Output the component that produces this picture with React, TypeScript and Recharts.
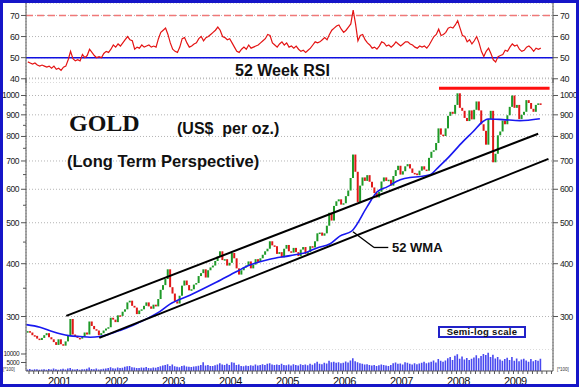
import React from "react";
import { Bar, CartesianGrid, ComposedChart, Line, ReferenceLine, XAxis, YAxis } from "recharts";

const W = 579;
const H = 387;
const SANS = "'Liberation Sans', Arial, sans-serif";
const SERIF = "'Liberation Serif', 'Times New Roman', serif";

// time axis (decimal years), plot spans 26..553 px
const X0 = 2000.614;
const X1 = 2009.86;
// half-month periods, first one = second half of Aug 2000
const FIRST_PERIOD = 2000 + 7.75 / 12;

// weekly gold price (US$)
const priceClose = [
  // 2000 Aug-b .. Dec-b
  277, 275, 271, 270, 266, 264, 267, 271, 274,
  // 2001
  268, 265, 261, 257, 265, 258, 256, 262, 270, 296, 272, 270,
  267, 266, 269, 275, 272, 292, 285, 280, 278, 271, 274, 278,
  // 2002
  281, 283, 298, 295, 291, 302, 301, 308, 312, 324, 327, 318,
  315, 304, 310, 312, 318, 324, 317, 313, 320, 317, 330, 347,
  // 2003
  356, 368, 388, 352, 340, 326, 322, 336, 355, 365, 356, 346,
  348, 357, 360, 374, 380, 388, 371, 386, 392, 396, 406, 416,
  // 2004
  428, 408, 410, 396, 402, 424, 412, 390, 377, 386, 392, 396,
  405, 390, 398, 410, 404, 412, 420, 428, 434, 452, 442, 440,
  // 2005
  422, 426, 414, 434, 443, 428, 425, 436, 426, 417, 432, 438,
  422, 426, 440, 437, 452, 472, 474, 466, 472, 492, 528, 506,
  // 2006
  548, 562, 568, 552, 556, 578, 596, 638, 725, 660, 560, 612,
  640, 628, 648, 625, 606, 588, 574, 592, 626, 640, 628, 632,
  // 2007
  612, 645, 666, 682, 650, 662, 680, 688, 672, 656, 654, 648,
  664, 680, 668, 664, 712, 736, 742, 772, 836, 808, 802, 836,
  // 2008
  895, 915, 905, 950, 1012, 935, 920, 885, 870, 922, 878, 925,
  968, 922, 855, 825, 765, 880, 920, 695, 728, 805, 822, 872,
  // 2009 Jan-a .. Aug-b
  855, 898, 940, 1000, 935, 950, 880, 900, 915, 975, 960, 930,
  915, 950, 958, 950,
];

// 52 week RSI
const rsi52 = [
  48, 47.5, 47, 47.5, 46.5, 46, 46.5, 46, 45.5,
  46, 45, 46, 44.5, 45, 44, 45.5, 46, 49, 53, 49.5, 48.5,
  49, 48.5, 51.5, 50, 51, 54, 52.5, 51, 50, 50.5, 50, 52,
  53, 52.5, 54, 56, 55, 56.5, 55.5, 57, 58.5, 60, 58.5, 58,
  54, 55, 54.5, 56, 55, 55.5, 56, 55, 55.5, 55, 59, 62,
  63, 64, 61, 57, 54, 53, 52.5, 55, 59, 59.5, 57, 55,
  55.5, 56.5, 57, 59, 60, 58, 59.5, 60, 61, 62, 63, 64.5,
  63, 60, 59.5, 58.5, 59, 57, 55, 53, 52.5, 54, 55, 54,
  56, 54.5, 55, 55.5, 56, 57, 58, 59, 61, 60.5, 57, 56,
  55, 56.5, 57.5, 56, 57, 55, 55.5, 54.5, 55.5, 54, 53, 53.5,
  52.5, 53.5, 54.5, 56, 57.5, 57, 57.5, 58.5, 59.5, 58.5, 61, 63,
  64, 65, 65.5, 63.5, 62, 63, 64.5, 66, 72.5, 66, 58, 60.5,
  61, 58.5, 57, 56, 54.5, 55, 54, 55.5, 57.5, 57, 55.5, 56,
  55, 56, 57.5, 56.5, 55.5, 56.5, 57.5, 57.5, 56.5, 56, 55, 54.5,
  55.5, 55, 55.5, 54.5, 56, 58, 60, 61, 63.5, 60.5, 61, 62,
  64, 64.5, 64, 65.5, 67.5, 64, 60.5, 60, 57.5, 58.5, 56.5, 58,
  60, 57, 53, 50.5, 53, 54.5, 52, 49, 48, 50.5, 51, 51.5,
  53.5, 53, 55, 56.5, 55.5, 56, 54, 53, 53.5, 55, 55.5, 54.5,
  53, 54.5, 54, 54.5,
];

// volume (x100)
const volume = [
  900, 1200, 800, 1000, 1100, 700, 900, 1000, 800,
  1200, 900, 1500, 1000, 800, 1100, 1300, 900, 1400, 1800, 1000, 900,
  1200, 800, 1000, 1100, 1300, 2000, 1200, 1000, 1400, 900, 1100, 1300,
  1500, 1800, 2200, 1600, 1500, 2000, 1700, 1900, 2500, 2800, 3000, 2200,
  2000, 1800, 1700, 2100, 1900, 2300, 1800, 1600, 2000, 1900, 2400, 2800,
  3200, 3500, 4000, 3000, 3800, 2800, 2500, 2200, 3000, 3300, 2700, 2500,
  2300, 2600, 2800, 3100, 3500, 5200, 3200, 3600, 3000, 2900, 3400, 3800,
  4500, 3800, 3500, 4200, 3600, 5200, 4800, 3500, 3800, 3000, 2800, 3200,
  2900, 3400, 3100, 3800, 3300, 3500, 4000, 3600, 4200, 4600, 3800, 3500,
  3800, 3500, 4200, 3600, 3400, 3800, 3200, 3900, 3500, 3300, 4000, 3600,
  3800, 3400, 4200, 3700, 4500, 5500, 4300, 4000, 4800, 4400, 6000, 5200,
  5500, 4800, 5200, 4500, 4800, 5600, 5000, 6200, 7500, 5800, 5200, 4600,
  4200, 3800, 4000, 3500, 3200, 3600, 3000, 3400, 3800, 3500, 3200, 3000,
  3600, 4500, 5000, 4200, 4400, 3800, 5200, 4800, 4300, 3800, 4500, 4000,
  4400, 4800, 5500, 4600, 5000, 5400, 6200, 5000, 7000, 6000, 5400, 6200,
  7500, 8200, 6500, 9000, 9800, 7200, 8500, 6800, 7600, 6500, 7200, 8000,
  9200, 7500, 8800, 10000, 9400, 10800, 8200, 9500, 7400, 8200, 6800, 6000,
  7000, 7800, 6500, 8200, 6000, 7400, 5800, 6800, 7200, 6200, 5400, 7000,
  5800, 6400, 6000, 7200,
];

// 52 week moving average (blue)
const wmaDates = [
  2000.62, 2000.86, 2001.09, 2001.21, 2001.39, 2001.56, 2001.74, 2001.91, 2002.09, 2002.26,
  2002.44, 2002.61, 2002.79, 2002.96, 2003.14, 2003.49, 2003.96, 2004.32, 2004.54, 2004.89,
  2005.25, 2005.54, 2005.72, 2005.95, 2006.12, 2006.33, 2006.6, 2006.77, 2006.95, 2007.18,
  2007.35, 2007.53, 2007.7, 2007.86, 2008.0, 2008.28, 2008.46, 2008.63, 2008.72, 2008.98,
  2009.28, 2009.63,
];
const wmaValues = [
  287, 283, 276, 273, 270, 269, 268, 269, 273, 278,
  284, 291, 299, 308, 321, 337, 362, 384, 397, 410,
  418, 426, 436, 446, 465, 478, 546, 591, 608, 632,
  640, 643, 649, 679, 708, 778, 822, 868, 880, 877,
  872, 881,
];

// trend channel + resistance
const channelUpper = [{ x: 2001.32, y: 301 }, { x: 2009.6, y: 812 }];
const channelLower = [{ x: 2001.9, y: 267 }, { x: 2009.78, y: 708 }];
const resistance = [{ x: 2007.86, y: 1040 }, { x: 2009.8, y: 1040 }];
const wmaPointer = [{ x: 2006.35, y: 476 }, { x: 2006.72, y: 437 }, { x: 2006.97, y: 437 }];

const yearTicks = [2001, 2002, 2003, 2004, 2005, 2006, 2007, 2008, 2009];
const priceTicks = [300, 400, 500, 600, 700, 800, 900, 1000];
const priceMinorTicks = [350, 450, 550, 650, 750, 850, 950];
const rsiTicks = [40, 50, 60, 70];
const volumeTicks = [5000, 10000];

const monthTicks: number[] = [];
for (let y = 2000; y <= 2009; y++) {
  for (let m = 0; m < 12; m++) {
    const t = y + m / 12;
    if (t > X0 && t < X1) monthTicks.push(t);
  }
}

const series = priceClose.map((c, i) => {
  const o = i > 0 ? priceClose[i - 1] : c;
  return {
    t: FIRST_PERIOD + i / 24,
    range: [Math.min(o, c), Math.max(o, c)],
    up: c >= o,
    rsi: rsi52[i],
    vol: volume[i],
  };
});
const wmaData = wmaDates.map((t, i) => ({ t, wma: wmaValues[i] }));

const GREEN = "#1e9a28";
const RED = "#e01818";
const AXIS = "#555";
const GRID = { stroke: "#b4b4b4", strokeDasharray: "1 2" };

// price bar: body between previous and current close, coloured by direction
function PriceBar(props: any) {
  const { x, y, width, height, payload } = props;
  if (x == null || y == null || !isFinite(y) || !isFinite(height)) return null;
  const h = Math.max(Math.abs(height), 1.5);
  const top = height < 0 ? y + height : y;
  return <rect x={x} y={top} width={width} height={h} fill={payload.up ? GREEN : RED} />;
}

function ValueTick(props: any) {
  const { x, y, payload, side, majors, fontSize } = props;
  const major = majors.includes(payload.value);
  const dir = side === "left" ? -1 : 1;
  return (
    <g>
      <line x1={x} x2={x + dir * (major ? 5 : 3)} y1={y} y2={y} stroke={AXIS} />
      {major && (
        <text
          x={x + dir * 7}
          y={y}
          dy={fontSize * 0.35}
          textAnchor={side === "left" ? "end" : "start"}
          fontSize={fontSize}
          fontFamily={SANS}
          letterSpacing={-0.5}
          fill="#222"
        >
          {payload.value}
        </text>
      )}
    </g>
  );
}

function TimeTick(props: any) {
  const { x, y, payload } = props;
  const v = payload.value;
  const isYear = Math.abs(v - Math.round(v)) < 1e-6;
  return (
    <g>
      <line x1={x} x2={x} y1={y} y2={y + 3} stroke={AXIS} />
      {isYear && (
        <text x={x} y={y + 13.5} fontSize={11} fontFamily={SANS} letterSpacing={-0.4} fill="#111">
          {Math.round(v)}
        </text>
      )}
    </g>
  );
}

// invisible time axis: "yr" carries the yearly grid, "m" places the bars
const silentAxis = (id: string, ticks: number[]) => (
  <XAxis
    xAxisId={id}
    dataKey="t"
    type="number"
    domain={[X0, X1]}
    allowDataOverflow
    ticks={ticks}
    interval={0}
    height={0}
    tick={false}
    tickLine={false}
    axisLine={false}
  />
);

const layer: React.CSSProperties = { position: "absolute", left: 0, top: 0 };

export default function App() {
  return (
    <div style={{ position: "absolute", left: 0, top: 0, width: W, height: H, background: "#fff", overflow: "hidden" }}>
      {/* volume panel + time axis */}
      <div style={layer}>
        <ComposedChart width={W} height={H} data={series} margin={{ top: 350, right: 0, bottom: 0, left: 0 }}>
          <CartesianGrid {...GRID} xAxisId="yr" yAxisId="L" horizontal={false} />
          <XAxis
            xAxisId="m"
            dataKey="t"
            type="number"
            domain={[X0, X1]}
            allowDataOverflow
            ticks={monthTicks}
            interval={0}
            height={16}
            tickSize={0}
            tickMargin={0}
            tick={<TimeTick />}
            stroke={AXIS}
          />
          {silentAxis("yr", yearTicks)}
          <YAxis
            yAxisId="L"
            domain={[0, 12350]}
            ticks={volumeTicks}
            interval={0}
            width={26}
            tickSize={0}
            tickMargin={0}
            stroke={AXIS}
            tick={(p: any) => <ValueTick {...p} side="left" majors={volumeTicks} fontSize={6.5} />}
          />
          <YAxis
            yAxisId="R"
            orientation="right"
            domain={[0, 12350]}
            ticks={volumeTicks}
            interval={0}
            width={26}
            tickSize={0}
            tickMargin={0}
            stroke={AXIS}
            tick={(p: any) => <ValueTick {...p} side="right" majors={volumeTicks} fontSize={6.5} />}
          />
          <Bar xAxisId="m" yAxisId="L" dataKey="vol" fill="#4848f0" barSize={1.6} isAnimationActive={false} />
        </ComposedChart>
      </div>

      {/* price panel (semi-log) */}
      <div style={layer}>
        <ComposedChart width={W} height={350} data={series} margin={{ top: 78, right: 0, bottom: 0, left: 0 }}>
          <CartesianGrid {...GRID} xAxisId="yr" yAxisId="R" />
          {silentAxis("yr", yearTicks)}
          {silentAxis("m", monthTicks)}
          <YAxis
            yAxisId="L"
            scale="log"
            domain={[250, 1100]}
            allowDataOverflow
            ticks={[...priceTicks, ...priceMinorTicks]}
            interval={0}
            width={26}
            tickSize={0}
            tickMargin={0}
            stroke={AXIS}
            tick={(p: any) => <ValueTick {...p} side="left" majors={priceTicks} fontSize={8.5} />}
          />
          <YAxis
            yAxisId="R"
            orientation="right"
            scale="log"
            domain={[250, 1100]}
            allowDataOverflow
            ticks={priceTicks}
            interval={0}
            width={26}
            tickSize={0}
            tickMargin={0}
            stroke={AXIS}
            tick={(p: any) => <ValueTick {...p} side="right" majors={priceTicks} fontSize={8.5} />}
          />
          <Bar
            xAxisId="m"
            yAxisId="L"
            dataKey="range"
            barSize={2}
            fill={GREEN}
            shape={(p: any) => <PriceBar {...p} />}
            isAnimationActive={false}
          />
          <Line
            xAxisId="yr"
            yAxisId="L"
            data={wmaData}
            dataKey="wma"
            type="monotone"
            stroke="#1818f0"
            strokeWidth={1.6}
            dot={false}
            isAnimationActive={false}
          />
          <ReferenceLine xAxisId="yr" yAxisId="L" segment={channelUpper} stroke="#000" strokeWidth={2} />
          <ReferenceLine xAxisId="yr" yAxisId="L" segment={channelLower} stroke="#000" strokeWidth={2} />
          <ReferenceLine xAxisId="yr" yAxisId="L" segment={resistance} stroke="#ff1010" strokeWidth={3} />
          <ReferenceLine xAxisId="yr" yAxisId="L" segment={[wmaPointer[0], wmaPointer[1]]} stroke="#000" strokeWidth={1.3} />
          <ReferenceLine xAxisId="yr" yAxisId="L" segment={[wmaPointer[1], wmaPointer[2]]} stroke="#000" strokeWidth={1.3} />
        </ComposedChart>
      </div>

      {/* RSI panel */}
      <div style={layer}>
        <ComposedChart width={W} height={83} data={series} margin={{ top: 3, right: 0, bottom: 0, left: 0 }}>
          <CartesianGrid {...GRID} xAxisId="yr" yAxisId="L" />
          {silentAxis("yr", yearTicks)}
          <YAxis
            yAxisId="L"
            domain={[38, 75.9]}
            allowDataOverflow
            ticks={rsiTicks}
            interval={0}
            width={26}
            tickSize={0}
            tickMargin={0}
            stroke={AXIS}
            tick={(p: any) => <ValueTick {...p} side="left" majors={rsiTicks} fontSize={9} />}
          />
          <YAxis
            yAxisId="R"
            orientation="right"
            domain={[38, 75.9]}
            allowDataOverflow
            ticks={rsiTicks}
            interval={0}
            width={26}
            tickSize={0}
            tickMargin={0}
            stroke={AXIS}
            tick={(p: any) => <ValueTick {...p} side="right" majors={rsiTicks} fontSize={9} />}
          />
          <ReferenceLine xAxisId="yr" yAxisId="L" y={70} stroke="#f07878" strokeWidth={1.5} strokeDasharray="7 4" />
          <ReferenceLine xAxisId="yr" yAxisId="L" y={50} stroke="#1010e0" strokeWidth={1.5} />
          <Line
            xAxisId="yr"
            yAxisId="L"
            dataKey="rsi"
            type="linear"
            stroke="#e41414"
            strokeWidth={1.2}
            dot={false}
            isAnimationActive={false}
          />
        </ComposedChart>
      </div>

      {/* annotations */}
      <div style={{ position: "absolute", left: 235, top: 62.5, font: `bold 16px/1 ${SANS}`, color: "#111" }}>52 Week RSI</div>
      <div style={{ position: "absolute", left: 69, top: 110.5, font: `bold 24px/1 ${SERIF}`, color: "#111" }}>GOLD</div>
      <div style={{ position: "absolute", left: 177, top: 121, font: `bold 16px/1 ${SANS}`, color: "#111", whiteSpace: "pre" }}>
        (US$  per oz.)
      </div>
      <div style={{ position: "absolute", left: 67, top: 152.5, font: `bold 16.5px/1 ${SANS}`, color: "#111" }}>
        (Long Term Perspective)
      </div>
      <div style={{ position: "absolute", left: 392, top: 241, font: `bold 13px/1 ${SANS}`, color: "#111" }}>52 WMA</div>
      <div
        style={{
          position: "absolute",
          left: 438,
          top: 326,
          width: 88,
          height: 12,
          boxSizing: "border-box",
          border: "2px solid #2222c8",
          background: "#fff",
          font: `bold 9.5px/8px ${SANS}`,
          letterSpacing: 0.3,
          textAlign: "center",
          color: "#111",
        }}
      >
        Semi-log scale
      </div>
      <div style={{ position: "absolute", left: 3, top: 367.5, font: `4.5px/1 ${SANS}`, color: "#333" }}>[*100]</div>
      <div style={{ position: "absolute", left: 557, top: 367.5, font: `4.5px/1 ${SANS}`, color: "#333" }}>[*100]</div>
      <div
        style={{
          position: "absolute",
          left: 0,
          top: 0,
          width: W,
          height: H,
          boxSizing: "border-box",
          border: "3px solid #1616c8",
          pointerEvents: "none",
        }}
      />
    </div>
  );
}
